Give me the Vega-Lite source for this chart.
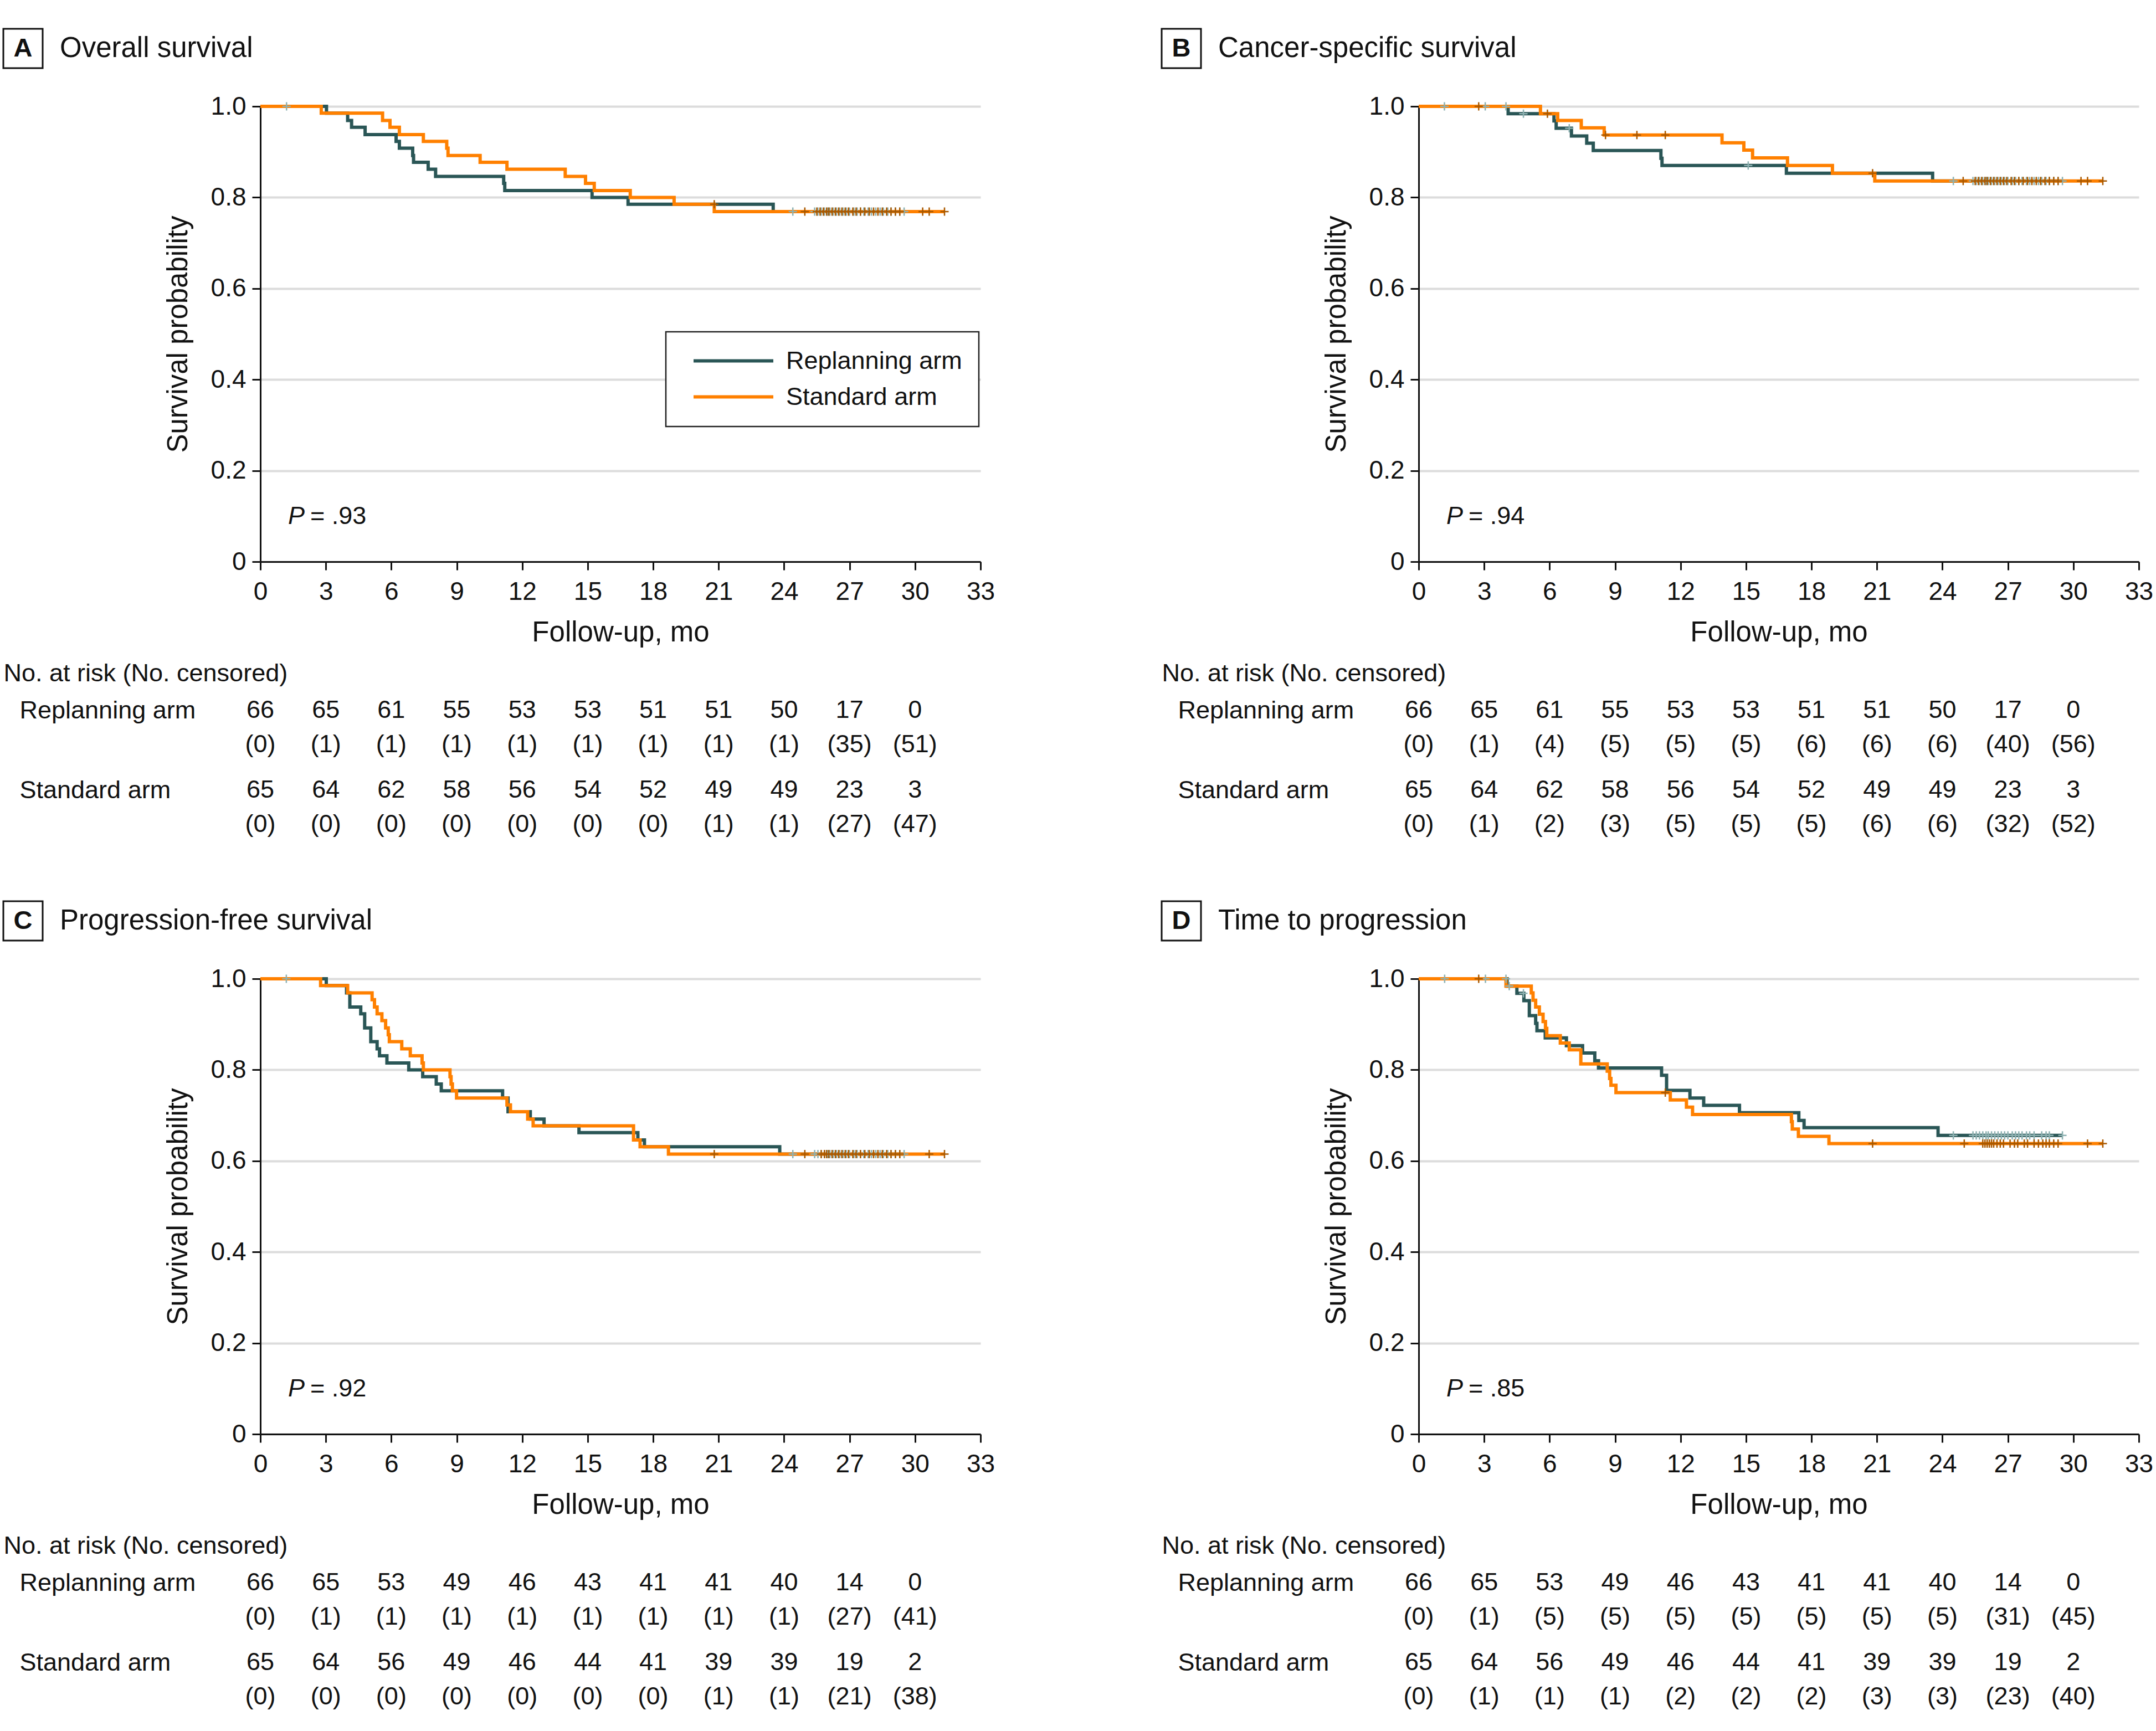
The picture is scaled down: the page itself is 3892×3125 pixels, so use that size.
{
  "$schema": "https://vega.github.io/schema/vega-lite/v6.json",
  "padding": {"left": 4, "top": 50, "right": 20, "bottom": 20},
  "background": "white",
  "columns": 2,
  "bounds": "flush",
  "spacing": {"row": 150, "column": 791},
  "datasets": {
    "km": [
      {"p":"A","a":"R","t":0,"s":1},{"p":"A","a":"R","t":3.03,"s":0.985},{"p":"A","a":"R","t":4.0,"s":0.969},{"p":"A","a":"R","t":4.18,"s":0.954},{"p":"A","a":"R","t":4.8,"s":0.938},{"p":"A","a":"R","t":6.22,"s":0.923},{"p":"A","a":"R","t":6.37,"s":0.908},{"p":"A","a":"R","t":6.98,"s":0.892},{"p":"A","a":"R","t":7.02,"s":0.877},{"p":"A","a":"R","t":7.69,"s":0.862},{"p":"A","a":"R","t":8.03,"s":0.846},{"p":"A","a":"R","t":11.15,"s":0.831},{"p":"A","a":"R","t":11.2,"s":0.815},{"p":"A","a":"R","t":15.2,"s":0.8},{"p":"A","a":"R","t":16.85,"s":0.785},{"p":"A","a":"R","t":23.5,"s":0.769},{"p":"A","a":"R","t":29.5,"s":0.769},
      {"p":"A","a":"S","t":0,"s":1},{"p":"A","a":"S","t":2.79,"s":0.985},{"p":"A","a":"S","t":5.6,"s":0.969},{"p":"A","a":"S","t":5.94,"s":0.954},{"p":"A","a":"S","t":6.37,"s":0.938},{"p":"A","a":"S","t":7.47,"s":0.923},{"p":"A","a":"S","t":8.54,"s":0.908},{"p":"A","a":"S","t":8.6,"s":0.892},{"p":"A","a":"S","t":10.07,"s":0.877},{"p":"A","a":"S","t":11.3,"s":0.862},{"p":"A","a":"S","t":13.97,"s":0.846},{"p":"A","a":"S","t":14.9,"s":0.831},{"p":"A","a":"S","t":15.3,"s":0.815},{"p":"A","a":"S","t":16.95,"s":0.8},{"p":"A","a":"S","t":18.96,"s":0.785},{"p":"A","a":"S","t":20.8,"s":0.769},{"p":"A","a":"S","t":31.35,"s":0.769},
      {"p":"B","a":"R","t":0,"s":1},{"p":"B","a":"R","t":4.1,"s":0.984},{"p":"B","a":"R","t":6.2,"s":0.968},{"p":"B","a":"R","t":6.3,"s":0.952},{"p":"B","a":"R","t":7.0,"s":0.935},{"p":"B","a":"R","t":7.7,"s":0.919},{"p":"B","a":"R","t":8.0,"s":0.903},{"p":"B","a":"R","t":11.1,"s":0.886},{"p":"B","a":"R","t":11.15,"s":0.87},{"p":"B","a":"R","t":16.85,"s":0.853},{"p":"B","a":"R","t":23.55,"s":0.836},{"p":"B","a":"R","t":29.5,"s":0.836},
      {"p":"B","a":"S","t":0,"s":1},{"p":"B","a":"S","t":5.58,"s":0.984},{"p":"B","a":"S","t":6.37,"s":0.969},{"p":"B","a":"S","t":7.45,"s":0.953},{"p":"B","a":"S","t":8.5,"s":0.937},{"p":"B","a":"S","t":13.9,"s":0.92},{"p":"B","a":"S","t":14.9,"s":0.904},{"p":"B","a":"S","t":15.3,"s":0.887},{"p":"B","a":"S","t":16.9,"s":0.87},{"p":"B","a":"S","t":18.96,"s":0.853},{"p":"B","a":"S","t":20.9,"s":0.836},{"p":"B","a":"S","t":31.35,"s":0.836},
      {"p":"C","a":"R","t":0,"s":1},{"p":"C","a":"R","t":3.02,"s":0.985},{"p":"C","a":"R","t":3.95,"s":0.969},{"p":"C","a":"R","t":4.1,"s":0.938},{"p":"C","a":"R","t":4.6,"s":0.923},{"p":"C","a":"R","t":4.78,"s":0.892},{"p":"C","a":"R","t":5.06,"s":0.862},{"p":"C","a":"R","t":5.35,"s":0.846},{"p":"C","a":"R","t":5.46,"s":0.831},{"p":"C","a":"R","t":5.8,"s":0.815},{"p":"C","a":"R","t":6.8,"s":0.8},{"p":"C","a":"R","t":7.44,"s":0.785},{"p":"C","a":"R","t":8.06,"s":0.769},{"p":"C","a":"R","t":8.29,"s":0.754},{"p":"C","a":"R","t":11.1,"s":0.738},{"p":"C","a":"R","t":11.35,"s":0.708},{"p":"C","a":"R","t":12.37,"s":0.692},{"p":"C","a":"R","t":13.0,"s":0.677},{"p":"C","a":"R","t":14.6,"s":0.662},{"p":"C","a":"R","t":17.3,"s":0.646},{"p":"C","a":"R","t":17.6,"s":0.631},{"p":"C","a":"R","t":23.8,"s":0.615},{"p":"C","a":"R","t":29.5,"s":0.615},
      {"p":"C","a":"S","t":0,"s":1},{"p":"C","a":"S","t":2.76,"s":0.985},{"p":"C","a":"S","t":4.0,"s":0.969},{"p":"C","a":"S","t":5.12,"s":0.954},{"p":"C","a":"S","t":5.23,"s":0.938},{"p":"C","a":"S","t":5.35,"s":0.923},{"p":"C","a":"S","t":5.57,"s":0.908},{"p":"C","a":"S","t":5.74,"s":0.892},{"p":"C","a":"S","t":5.86,"s":0.877},{"p":"C","a":"S","t":5.91,"s":0.862},{"p":"C","a":"S","t":6.48,"s":0.846},{"p":"C","a":"S","t":6.87,"s":0.831},{"p":"C","a":"S","t":7.41,"s":0.815},{"p":"C","a":"S","t":7.47,"s":0.8},{"p":"C","a":"S","t":8.69,"s":0.785},{"p":"C","a":"S","t":8.74,"s":0.769},{"p":"C","a":"S","t":8.8,"s":0.754},{"p":"C","a":"S","t":8.99,"s":0.738},{"p":"C","a":"S","t":11.3,"s":0.723},{"p":"C","a":"S","t":11.46,"s":0.708},{"p":"C","a":"S","t":12.25,"s":0.692},{"p":"C","a":"S","t":12.5,"s":0.677},{"p":"C","a":"S","t":17.1,"s":0.646},{"p":"C","a":"S","t":17.4,"s":0.631},{"p":"C","a":"S","t":18.7,"s":0.615},{"p":"C","a":"S","t":31.35,"s":0.615},
      {"p":"D","a":"R","t":0,"s":1},{"p":"D","a":"R","t":4.05,"s":0.984},{"p":"D","a":"R","t":4.5,"s":0.968},{"p":"D","a":"R","t":4.82,"s":0.952},{"p":"D","a":"R","t":5.07,"s":0.919},{"p":"D","a":"R","t":5.36,"s":0.902},{"p":"D","a":"R","t":5.42,"s":0.886},{"p":"D","a":"R","t":5.8,"s":0.87},{"p":"D","a":"R","t":6.77,"s":0.853},{"p":"D","a":"R","t":7.51,"s":0.837},{"p":"D","a":"R","t":8.07,"s":0.82},{"p":"D","a":"R","t":8.24,"s":0.804},{"p":"D","a":"R","t":11.13,"s":0.788},{"p":"D","a":"R","t":11.36,"s":0.755},{"p":"D","a":"R","t":12.43,"s":0.738},{"p":"D","a":"R","t":13.06,"s":0.722},{"p":"D","a":"R","t":14.7,"s":0.706},{"p":"D","a":"R","t":17.42,"s":0.689},{"p":"D","a":"R","t":17.66,"s":0.673},{"p":"D","a":"R","t":23.8,"s":0.656},{"p":"D","a":"R","t":29.5,"s":0.656},
      {"p":"D","a":"S","t":0,"s":1},{"p":"D","a":"S","t":4.0,"s":0.984},{"p":"D","a":"S","t":5.16,"s":0.969},{"p":"D","a":"S","t":5.24,"s":0.953},{"p":"D","a":"S","t":5.36,"s":0.938},{"p":"D","a":"S","t":5.53,"s":0.922},{"p":"D","a":"S","t":5.7,"s":0.906},{"p":"D","a":"S","t":5.81,"s":0.891},{"p":"D","a":"S","t":5.87,"s":0.875},{"p":"D","a":"S","t":6.49,"s":0.859},{"p":"D","a":"S","t":6.9,"s":0.844},{"p":"D","a":"S","t":7.43,"s":0.813},{"p":"D","a":"S","t":8.64,"s":0.797},{"p":"D","a":"S","t":8.75,"s":0.781},{"p":"D","a":"S","t":8.81,"s":0.766},{"p":"D","a":"S","t":9.04,"s":0.75},{"p":"D","a":"S","t":11.53,"s":0.734},{"p":"D","a":"S","t":12.27,"s":0.718},{"p":"D","a":"S","t":12.55,"s":0.702},{"p":"D","a":"S","t":17.08,"s":0.686},{"p":"D","a":"S","t":17.12,"s":0.67},{"p":"D","a":"S","t":17.4,"s":0.654},{"p":"D","a":"S","t":18.8,"s":0.638},{"p":"D","a":"S","t":31.35,"s":0.638}
    ],
    "cens": [
      {"p":"A","a":"R","t":1.2,"s":1},
      {"p":"A","a":"R","t":24.4,"s":0.769},{"p":"A","a":"R","t":25.4,"s":0.769},{"p":"A","a":"R","t":25.55,"s":0.769},{"p":"A","a":"R","t":25.7,"s":0.769},{"p":"A","a":"R","t":25.85,"s":0.769},{"p":"A","a":"R","t":26.0,"s":0.769},{"p":"A","a":"R","t":26.1,"s":0.769},{"p":"A","a":"R","t":26.25,"s":0.769},{"p":"A","a":"R","t":26.4,"s":0.769},{"p":"A","a":"R","t":26.55,"s":0.769},{"p":"A","a":"R","t":26.7,"s":0.769},{"p":"A","a":"R","t":26.85,"s":0.769},{"p":"A","a":"R","t":27.0,"s":0.769},{"p":"A","a":"R","t":27.2,"s":0.769},{"p":"A","a":"R","t":27.35,"s":0.769},{"p":"A","a":"R","t":27.5,"s":0.769},{"p":"A","a":"R","t":27.65,"s":0.769},{"p":"A","a":"R","t":27.85,"s":0.769},{"p":"A","a":"R","t":28.0,"s":0.769},{"p":"A","a":"R","t":28.2,"s":0.769},{"p":"A","a":"R","t":28.4,"s":0.769},{"p":"A","a":"R","t":28.55,"s":0.769},{"p":"A","a":"R","t":28.75,"s":0.769},{"p":"A","a":"R","t":28.9,"s":0.769},{"p":"A","a":"R","t":29.1,"s":0.769},{"p":"A","a":"R","t":29.3,"s":0.769},{"p":"A","a":"R","t":29.5,"s":0.769},
      {"p":"A","a":"S","t":20.8,"s":0.785},
      {"p":"A","a":"S","t":24.95,"s":0.769},{"p":"A","a":"S","t":25.5,"s":0.769},{"p":"A","a":"S","t":25.65,"s":0.769},{"p":"A","a":"S","t":25.8,"s":0.769},{"p":"A","a":"S","t":25.95,"s":0.769},{"p":"A","a":"S","t":26.05,"s":0.769},{"p":"A","a":"S","t":26.2,"s":0.769},{"p":"A","a":"S","t":26.35,"s":0.769},{"p":"A","a":"S","t":26.5,"s":0.769},{"p":"A","a":"S","t":26.65,"s":0.769},{"p":"A","a":"S","t":26.8,"s":0.769},{"p":"A","a":"S","t":26.95,"s":0.769},{"p":"A","a":"S","t":27.15,"s":0.769},{"p":"A","a":"S","t":27.3,"s":0.769},{"p":"A","a":"S","t":27.5,"s":0.769},{"p":"A","a":"S","t":27.7,"s":0.769},{"p":"A","a":"S","t":27.9,"s":0.769},{"p":"A","a":"S","t":28.1,"s":0.769},{"p":"A","a":"S","t":28.3,"s":0.769},{"p":"A","a":"S","t":28.5,"s":0.769},{"p":"A","a":"S","t":28.7,"s":0.769},{"p":"A","a":"S","t":28.9,"s":0.769},{"p":"A","a":"S","t":29.1,"s":0.769},{"p":"A","a":"S","t":29.3,"s":0.769},{"p":"A","a":"S","t":30.35,"s":0.769},{"p":"A","a":"S","t":30.65,"s":0.769},{"p":"A","a":"S","t":31.35,"s":0.769},
      {"p":"B","a":"R","t":1.18,"s":1},{"p":"B","a":"R","t":3.05,"s":1},{"p":"B","a":"R","t":4.0,"s":1},{"p":"B","a":"R","t":4.8,"s":0.984},{"p":"B","a":"R","t":6.9,"s":0.952},{"p":"B","a":"R","t":15.1,"s":0.87},
      {"p":"B","a":"R","t":24.5,"s":0.836},{"p":"B","a":"R","t":25.4,"s":0.836},{"p":"B","a":"R","t":25.55,"s":0.836},{"p":"B","a":"R","t":25.7,"s":0.836},{"p":"B","a":"R","t":25.85,"s":0.836},{"p":"B","a":"R","t":26.0,"s":0.836},{"p":"B","a":"R","t":26.1,"s":0.836},{"p":"B","a":"R","t":26.25,"s":0.836},{"p":"B","a":"R","t":26.4,"s":0.836},{"p":"B","a":"R","t":26.55,"s":0.836},{"p":"B","a":"R","t":26.7,"s":0.836},{"p":"B","a":"R","t":26.85,"s":0.836},{"p":"B","a":"R","t":27.0,"s":0.836},{"p":"B","a":"R","t":27.2,"s":0.836},{"p":"B","a":"R","t":27.35,"s":0.836},{"p":"B","a":"R","t":27.5,"s":0.836},{"p":"B","a":"R","t":27.65,"s":0.836},{"p":"B","a":"R","t":27.85,"s":0.836},{"p":"B","a":"R","t":28.0,"s":0.836},{"p":"B","a":"R","t":28.2,"s":0.836},{"p":"B","a":"R","t":28.4,"s":0.836},{"p":"B","a":"R","t":28.55,"s":0.836},{"p":"B","a":"R","t":28.75,"s":0.836},{"p":"B","a":"R","t":28.9,"s":0.836},{"p":"B","a":"R","t":29.1,"s":0.836},{"p":"B","a":"R","t":29.3,"s":0.836},{"p":"B","a":"R","t":29.5,"s":0.836},
      {"p":"B","a":"S","t":2.75,"s":1},{"p":"B","a":"S","t":5.9,"s":0.984},{"p":"B","a":"S","t":8.56,"s":0.937},{"p":"B","a":"S","t":10.0,"s":0.937},{"p":"B","a":"S","t":11.3,"s":0.937},{"p":"B","a":"S","t":20.8,"s":0.853},
      {"p":"B","a":"S","t":24.95,"s":0.836},{"p":"B","a":"S","t":25.5,"s":0.836},{"p":"B","a":"S","t":25.65,"s":0.836},{"p":"B","a":"S","t":25.8,"s":0.836},{"p":"B","a":"S","t":25.95,"s":0.836},{"p":"B","a":"S","t":26.05,"s":0.836},{"p":"B","a":"S","t":26.2,"s":0.836},{"p":"B","a":"S","t":26.35,"s":0.836},{"p":"B","a":"S","t":26.5,"s":0.836},{"p":"B","a":"S","t":26.65,"s":0.836},{"p":"B","a":"S","t":26.8,"s":0.836},{"p":"B","a":"S","t":26.95,"s":0.836},{"p":"B","a":"S","t":27.15,"s":0.836},{"p":"B","a":"S","t":27.3,"s":0.836},{"p":"B","a":"S","t":27.5,"s":0.836},{"p":"B","a":"S","t":27.7,"s":0.836},{"p":"B","a":"S","t":27.9,"s":0.836},{"p":"B","a":"S","t":28.1,"s":0.836},{"p":"B","a":"S","t":28.3,"s":0.836},{"p":"B","a":"S","t":28.5,"s":0.836},{"p":"B","a":"S","t":28.7,"s":0.836},{"p":"B","a":"S","t":28.9,"s":0.836},{"p":"B","a":"S","t":29.1,"s":0.836},{"p":"B","a":"S","t":29.3,"s":0.836},{"p":"B","a":"S","t":30.35,"s":0.836},{"p":"B","a":"S","t":30.65,"s":0.836},{"p":"B","a":"S","t":31.35,"s":0.836},
      {"p":"C","a":"R","t":1.19,"s":1},
      {"p":"C","a":"R","t":24.4,"s":0.615},{"p":"C","a":"R","t":25.4,"s":0.615},{"p":"C","a":"R","t":25.55,"s":0.615},{"p":"C","a":"R","t":25.7,"s":0.615},{"p":"C","a":"R","t":25.85,"s":0.615},{"p":"C","a":"R","t":26.0,"s":0.615},{"p":"C","a":"R","t":26.1,"s":0.615},{"p":"C","a":"R","t":26.25,"s":0.615},{"p":"C","a":"R","t":26.4,"s":0.615},{"p":"C","a":"R","t":26.55,"s":0.615},{"p":"C","a":"R","t":26.7,"s":0.615},{"p":"C","a":"R","t":26.85,"s":0.615},{"p":"C","a":"R","t":27.0,"s":0.615},{"p":"C","a":"R","t":27.2,"s":0.615},{"p":"C","a":"R","t":27.35,"s":0.615},{"p":"C","a":"R","t":27.5,"s":0.615},{"p":"C","a":"R","t":27.65,"s":0.615},{"p":"C","a":"R","t":27.85,"s":0.615},{"p":"C","a":"R","t":28.0,"s":0.615},{"p":"C","a":"R","t":28.2,"s":0.615},{"p":"C","a":"R","t":28.4,"s":0.615},{"p":"C","a":"R","t":28.55,"s":0.615},{"p":"C","a":"R","t":28.75,"s":0.615},{"p":"C","a":"R","t":28.9,"s":0.615},{"p":"C","a":"R","t":29.1,"s":0.615},{"p":"C","a":"R","t":29.3,"s":0.615},{"p":"C","a":"R","t":29.5,"s":0.615},
      {"p":"C","a":"S","t":20.8,"s":0.615},
      {"p":"C","a":"S","t":24.95,"s":0.615},{"p":"C","a":"S","t":25.7,"s":0.615},{"p":"C","a":"S","t":25.85,"s":0.615},{"p":"C","a":"S","t":25.95,"s":0.615},{"p":"C","a":"S","t":26.05,"s":0.615},{"p":"C","a":"S","t":26.2,"s":0.615},{"p":"C","a":"S","t":26.35,"s":0.615},{"p":"C","a":"S","t":26.5,"s":0.615},{"p":"C","a":"S","t":26.65,"s":0.615},{"p":"C","a":"S","t":26.8,"s":0.615},{"p":"C","a":"S","t":26.95,"s":0.615},{"p":"C","a":"S","t":27.15,"s":0.615},{"p":"C","a":"S","t":27.3,"s":0.615},{"p":"C","a":"S","t":27.5,"s":0.615},{"p":"C","a":"S","t":27.7,"s":0.615},{"p":"C","a":"S","t":27.9,"s":0.615},{"p":"C","a":"S","t":28.1,"s":0.615},{"p":"C","a":"S","t":28.3,"s":0.615},{"p":"C","a":"S","t":28.5,"s":0.615},{"p":"C","a":"S","t":28.7,"s":0.615},{"p":"C","a":"S","t":28.9,"s":0.615},{"p":"C","a":"S","t":29.1,"s":0.615},{"p":"C","a":"S","t":29.3,"s":0.615},{"p":"C","a":"S","t":30.65,"s":0.615},{"p":"C","a":"S","t":31.35,"s":0.615},
      {"p":"D","a":"R","t":1.19,"s":1},{"p":"D","a":"R","t":3.06,"s":1},{"p":"D","a":"R","t":4.0,"s":1},{"p":"D","a":"R","t":4.15,"s":0.984},{"p":"D","a":"R","t":4.8,"s":0.968},
      {"p":"D","a":"R","t":24.5,"s":0.656},{"p":"D","a":"R","t":25.4,"s":0.656},{"p":"D","a":"R","t":25.55,"s":0.656},{"p":"D","a":"R","t":25.7,"s":0.656},{"p":"D","a":"R","t":25.85,"s":0.656},{"p":"D","a":"R","t":26.0,"s":0.656},{"p":"D","a":"R","t":26.1,"s":0.656},{"p":"D","a":"R","t":26.25,"s":0.656},{"p":"D","a":"R","t":26.4,"s":0.656},{"p":"D","a":"R","t":26.55,"s":0.656},{"p":"D","a":"R","t":26.7,"s":0.656},{"p":"D","a":"R","t":26.85,"s":0.656},{"p":"D","a":"R","t":27.0,"s":0.656},{"p":"D","a":"R","t":27.2,"s":0.656},{"p":"D","a":"R","t":27.35,"s":0.656},{"p":"D","a":"R","t":27.5,"s":0.656},{"p":"D","a":"R","t":27.65,"s":0.656},{"p":"D","a":"R","t":27.85,"s":0.656},{"p":"D","a":"R","t":28.0,"s":0.656},{"p":"D","a":"R","t":28.2,"s":0.656},{"p":"D","a":"R","t":28.55,"s":0.656},{"p":"D","a":"R","t":28.75,"s":0.656},{"p":"D","a":"R","t":28.9,"s":0.656},{"p":"D","a":"R","t":29.5,"s":0.656},
      {"p":"D","a":"S","t":2.75,"s":1},{"p":"D","a":"S","t":11.3,"s":0.75},{"p":"D","a":"S","t":20.8,"s":0.638},
      {"p":"D","a":"S","t":25.0,"s":0.638},{"p":"D","a":"S","t":25.85,"s":0.638},{"p":"D","a":"S","t":25.95,"s":0.638},{"p":"D","a":"S","t":26.05,"s":0.638},{"p":"D","a":"S","t":26.15,"s":0.638},{"p":"D","a":"S","t":26.25,"s":0.638},{"p":"D","a":"S","t":26.35,"s":0.638},{"p":"D","a":"S","t":26.5,"s":0.638},{"p":"D","a":"S","t":26.65,"s":0.638},{"p":"D","a":"S","t":26.8,"s":0.638},{"p":"D","a":"S","t":27.1,"s":0.638},{"p":"D","a":"S","t":27.3,"s":0.638},{"p":"D","a":"S","t":27.45,"s":0.638},{"p":"D","a":"S","t":27.75,"s":0.638},{"p":"D","a":"S","t":27.9,"s":0.638},{"p":"D","a":"S","t":28.2,"s":0.638},{"p":"D","a":"S","t":28.4,"s":0.638},{"p":"D","a":"S","t":28.6,"s":0.638},{"p":"D","a":"S","t":28.75,"s":0.638},{"p":"D","a":"S","t":28.9,"s":0.638},{"p":"D","a":"S","t":29.1,"s":0.638},{"p":"D","a":"S","t":29.3,"s":0.638},{"p":"D","a":"S","t":30.65,"s":0.638},{"p":"D","a":"S","t":31.35,"s":0.638}
    ],
    "risk": [
      {"p":"A","a":"R","t":0,"n":66,"c":0},{"p":"A","a":"R","t":3,"n":65,"c":1},{"p":"A","a":"R","t":6,"n":61,"c":1},{"p":"A","a":"R","t":9,"n":55,"c":1},{"p":"A","a":"R","t":12,"n":53,"c":1},{"p":"A","a":"R","t":15,"n":53,"c":1},{"p":"A","a":"R","t":18,"n":51,"c":1},{"p":"A","a":"R","t":21,"n":51,"c":1},{"p":"A","a":"R","t":24,"n":50,"c":1},{"p":"A","a":"R","t":27,"n":17,"c":35},{"p":"A","a":"R","t":30,"n":0,"c":51},
      {"p":"A","a":"S","t":0,"n":65,"c":0},{"p":"A","a":"S","t":3,"n":64,"c":0},{"p":"A","a":"S","t":6,"n":62,"c":0},{"p":"A","a":"S","t":9,"n":58,"c":0},{"p":"A","a":"S","t":12,"n":56,"c":0},{"p":"A","a":"S","t":15,"n":54,"c":0},{"p":"A","a":"S","t":18,"n":52,"c":0},{"p":"A","a":"S","t":21,"n":49,"c":1},{"p":"A","a":"S","t":24,"n":49,"c":1},{"p":"A","a":"S","t":27,"n":23,"c":27},{"p":"A","a":"S","t":30,"n":3,"c":47},
      {"p":"B","a":"R","t":0,"n":66,"c":0},{"p":"B","a":"R","t":3,"n":65,"c":1},{"p":"B","a":"R","t":6,"n":61,"c":4},{"p":"B","a":"R","t":9,"n":55,"c":5},{"p":"B","a":"R","t":12,"n":53,"c":5},{"p":"B","a":"R","t":15,"n":53,"c":5},{"p":"B","a":"R","t":18,"n":51,"c":6},{"p":"B","a":"R","t":21,"n":51,"c":6},{"p":"B","a":"R","t":24,"n":50,"c":6},{"p":"B","a":"R","t":27,"n":17,"c":40},{"p":"B","a":"R","t":30,"n":0,"c":56},
      {"p":"B","a":"S","t":0,"n":65,"c":0},{"p":"B","a":"S","t":3,"n":64,"c":1},{"p":"B","a":"S","t":6,"n":62,"c":2},{"p":"B","a":"S","t":9,"n":58,"c":3},{"p":"B","a":"S","t":12,"n":56,"c":5},{"p":"B","a":"S","t":15,"n":54,"c":5},{"p":"B","a":"S","t":18,"n":52,"c":5},{"p":"B","a":"S","t":21,"n":49,"c":6},{"p":"B","a":"S","t":24,"n":49,"c":6},{"p":"B","a":"S","t":27,"n":23,"c":32},{"p":"B","a":"S","t":30,"n":3,"c":52},
      {"p":"C","a":"R","t":0,"n":66,"c":0},{"p":"C","a":"R","t":3,"n":65,"c":1},{"p":"C","a":"R","t":6,"n":53,"c":1},{"p":"C","a":"R","t":9,"n":49,"c":1},{"p":"C","a":"R","t":12,"n":46,"c":1},{"p":"C","a":"R","t":15,"n":43,"c":1},{"p":"C","a":"R","t":18,"n":41,"c":1},{"p":"C","a":"R","t":21,"n":41,"c":1},{"p":"C","a":"R","t":24,"n":40,"c":1},{"p":"C","a":"R","t":27,"n":14,"c":27},{"p":"C","a":"R","t":30,"n":0,"c":41},
      {"p":"C","a":"S","t":0,"n":65,"c":0},{"p":"C","a":"S","t":3,"n":64,"c":0},{"p":"C","a":"S","t":6,"n":56,"c":0},{"p":"C","a":"S","t":9,"n":49,"c":0},{"p":"C","a":"S","t":12,"n":46,"c":0},{"p":"C","a":"S","t":15,"n":44,"c":0},{"p":"C","a":"S","t":18,"n":41,"c":0},{"p":"C","a":"S","t":21,"n":39,"c":1},{"p":"C","a":"S","t":24,"n":39,"c":1},{"p":"C","a":"S","t":27,"n":19,"c":21},{"p":"C","a":"S","t":30,"n":2,"c":38},
      {"p":"D","a":"R","t":0,"n":66,"c":0},{"p":"D","a":"R","t":3,"n":65,"c":1},{"p":"D","a":"R","t":6,"n":53,"c":5},{"p":"D","a":"R","t":9,"n":49,"c":5},{"p":"D","a":"R","t":12,"n":46,"c":5},{"p":"D","a":"R","t":15,"n":43,"c":5},{"p":"D","a":"R","t":18,"n":41,"c":5},{"p":"D","a":"R","t":21,"n":41,"c":5},{"p":"D","a":"R","t":24,"n":40,"c":5},{"p":"D","a":"R","t":27,"n":14,"c":31},{"p":"D","a":"R","t":30,"n":0,"c":45},
      {"p":"D","a":"S","t":0,"n":65,"c":0},{"p":"D","a":"S","t":3,"n":64,"c":1},{"p":"D","a":"S","t":6,"n":56,"c":1},{"p":"D","a":"S","t":9,"n":49,"c":1},{"p":"D","a":"S","t":12,"n":46,"c":2},{"p":"D","a":"S","t":15,"n":44,"c":2},{"p":"D","a":"S","t":18,"n":41,"c":2},{"p":"D","a":"S","t":21,"n":39,"c":3},{"p":"D","a":"S","t":24,"n":39,"c":3},{"p":"D","a":"S","t":27,"n":19,"c":23},{"p":"D","a":"S","t":30,"n":2,"c":40}
    ]
  },
  "concat": [
    {
      "width": 1300, "height": 822,
      "layer": [
        {"data": {"name": "km"}, "transform": [{"filter": "datum.p == 'A'"}],
         "mark": {"type": "line", "interpolate": "step-after", "strokeWidth": 6, "strokeJoin": "miter"},
         "encoding": {
           "x": {"field": "t", "type": "quantitative", "scale": {"domain": [0, 33], "nice": false},
                 "axis": {"values": [0,3,6,9,12,15,18,21,24,27,30,33], "format": "d", "title": "Follow-up, mo", "grid": false, "domainColor": "#111", "domainWidth": 3, "tickColor": "#111", "tickWidth": 3, "tickSize": 15, "labelPadding": 17, "labelFontSize": 46, "labelFlush": false, "labelOverlap": false, "titleFontSize": 51, "titlePadding": 26, "titleFontWeight": "normal"}},
           "y": {"field": "s", "type": "quantitative", "scale": {"domain": [0, 1], "nice": false},
                 "axis": {"values": [0,0.2,0.4,0.6,0.8,1], "labelExpr": "datum.value == 0 ? '0' : format(datum.value, '.1f')", "title": "Survival probability", "grid": true, "gridColor": "#dcdcdc", "gridWidth": 4, "domainColor": "#111", "domainWidth": 3, "tickColor": "#111", "tickWidth": 3, "tickSize": 15, "labelPadding": 11, "labelFontSize": 46, "labelFlush": false, "labelOverlap": false, "titleFontSize": 51, "titlePadding": 32, "titleFontWeight": "normal"}},
           "color": {"field": "a", "type": "nominal", "scale": {"domain": ["R", "S"], "range": ["#2a5656", "#ff8000"]},
                     "legend": {"title": null, "orient": "none", "legendX": 732, "legendY": 407, "direction": "vertical", "symbolType": "stroke", "symbolSize": 20736, "symbolStrokeWidth": 6, "symbolOffset": 17, "clipHeight": 45, "labelFontSize": 45, "labelOffset": 20, "labelLimit": 1000, "rowPadding": 19, "padding": 30, "strokeColor": "#222", "fillColor": "white", "labelExpr": "datum.value == 'R' ? 'Replanning arm' : 'Standard arm'"}}
         }},
        {"data": {"name": "cens"}, "transform": [{"filter": "datum.p == 'A'"}],
         "mark": {"type": "point", "shape": "M-1,0H1M0,-1V1", "filled": false, "size": 225, "strokeWidth": 2.5, "opacity": 1},
         "encoding": {
           "x": {"field": "t", "type": "quantitative"},
           "y": {"field": "s", "type": "quantitative"},
           "stroke": {"field": "a", "type": "nominal", "scale": {"domain": ["R", "S"], "range": ["#8db1b1", "#a85800"]}, "legend": null}
         }},
        {"data": {"values": [{}]}, "mark": {"type": "rect", "fillOpacity": 0, "stroke": "#111", "strokeWidth": 3},
         "encoding": {"x": {"datum": -11.778}, "x2": {"datum": -9.976}, "y": {"datum": 1.1703}, "y2": {"datum": 1.0839}}},
        {"data": {"values": [{}]}, "mark": {"type": "text", "text": "A", "fontSize": 47, "fontWeight": "bold", "align": "center", "baseline": "middle"},
         "encoding": {"x": {"datum": -10.877}, "y": {"datum": 1.127}}},
        {"data": {"values": [{}]}, "mark": {"type": "text", "text": "Overall survival", "fontSize": 51, "align": "left", "baseline": "middle"},
         "encoding": {"x": {"datum": -9.19}, "y": {"datum": 1.127}}},
        {"data": {"values": [{}]}, "mark": {"type": "text", "text": "P", "fontSize": 45, "fontStyle": "italic", "align": "left", "baseline": "middle"},
         "encoding": {"x": {"datum": 1.27}, "y": {"datum": 0.1}}},
        {"data": {"values": [{}]}, "mark": {"type": "text", "text": "= .93", "fontSize": 45, "align": "left", "baseline": "middle", "dx": 40},
         "encoding": {"x": {"datum": 1.27}, "y": {"datum": 0.1}}}
      ]
    },
    {
      "width": 1300, "height": 822,
      "layer": [
        {"data": {"name": "km"}, "transform": [{"filter": "datum.p == 'B'"}],
         "mark": {"type": "line", "interpolate": "step-after", "strokeWidth": 6, "strokeJoin": "miter"},
         "encoding": {
           "x": {"field": "t", "type": "quantitative", "scale": {"domain": [0, 33], "nice": false},
                 "axis": {"values": [0,3,6,9,12,15,18,21,24,27,30,33], "format": "d", "title": "Follow-up, mo", "grid": false, "domainColor": "#111", "domainWidth": 3, "tickColor": "#111", "tickWidth": 3, "tickSize": 15, "labelPadding": 17, "labelFontSize": 46, "labelFlush": false, "labelOverlap": false, "titleFontSize": 51, "titlePadding": 26, "titleFontWeight": "normal"}},
           "y": {"field": "s", "type": "quantitative", "scale": {"domain": [0, 1], "nice": false},
                 "axis": {"values": [0,0.2,0.4,0.6,0.8,1], "labelExpr": "datum.value == 0 ? '0' : format(datum.value, '.1f')", "title": "Survival probability", "grid": true, "gridColor": "#dcdcdc", "gridWidth": 4, "domainColor": "#111", "domainWidth": 3, "tickColor": "#111", "tickWidth": 3, "tickSize": 15, "labelPadding": 11, "labelFontSize": 46, "labelFlush": false, "labelOverlap": false, "titleFontSize": 51, "titlePadding": 32, "titleFontWeight": "normal"}},
           "color": {"field": "a", "type": "nominal", "scale": {"domain": ["R", "S"], "range": ["#2a5656", "#ff8000"]}, "legend": null}
         }},
        {"data": {"name": "cens"}, "transform": [{"filter": "datum.p == 'B'"}],
         "mark": {"type": "point", "shape": "M-1,0H1M0,-1V1", "filled": false, "size": 225, "strokeWidth": 2.5, "opacity": 1},
         "encoding": {
           "x": {"field": "t", "type": "quantitative"},
           "y": {"field": "s", "type": "quantitative"},
           "stroke": {"field": "a", "type": "nominal", "scale": {"domain": ["R", "S"], "range": ["#8db1b1", "#a85800"]}, "legend": null}
         }},
        {"data": {"values": [{}]}, "mark": {"type": "rect", "fillOpacity": 0, "stroke": "#111", "strokeWidth": 3},
         "encoding": {"x": {"datum": -11.778}, "x2": {"datum": -9.976}, "y": {"datum": 1.1703}, "y2": {"datum": 1.0839}}},
        {"data": {"values": [{}]}, "mark": {"type": "text", "text": "B", "fontSize": 47, "fontWeight": "bold", "align": "center", "baseline": "middle"},
         "encoding": {"x": {"datum": -10.877}, "y": {"datum": 1.127}}},
        {"data": {"values": [{}]}, "mark": {"type": "text", "text": "Cancer-specific survival", "fontSize": 51, "align": "left", "baseline": "middle"},
         "encoding": {"x": {"datum": -9.19}, "y": {"datum": 1.127}}},
        {"data": {"values": [{}]}, "mark": {"type": "text", "text": "P", "fontSize": 45, "fontStyle": "italic", "align": "left", "baseline": "middle"},
         "encoding": {"x": {"datum": 1.27}, "y": {"datum": 0.1}}},
        {"data": {"values": [{}]}, "mark": {"type": "text", "text": "= .94", "fontSize": 45, "align": "left", "baseline": "middle", "dx": 40},
         "encoding": {"x": {"datum": 1.27}, "y": {"datum": 0.1}}}
      ]
    },
    {
      "width": 1300, "height": 453,
      "data": {"name": "risk"},
      "transform": [{"filter": "datum.p == 'A'"}, {"calculate": "'(' + datum.c + ')'", "as": "cl"}],
      "encoding": {
        "x": {"field": "t", "type": "quantitative", "scale": {"domain": [0, 33], "nice": false}, "axis": null},
        "y": {"field": "a", "type": "nominal", "scale": {"type": "point", "domain": ["R", "S"], "range": [149, 293], "padding": 0},
              "axis": {"title": "No. at risk (No. censored)", "titleAngle": 0, "titleAlign": "left", "titleBaseline": "middle", "titleX": -464, "titleY": 51, "titleFontSize": 45, "titleFontWeight": "normal", "domain": false, "ticks": false, "tickSize": 0, "labelAlign": "left", "labelBaseline": "middle", "labelPadding": 435, "labelOffset": -31, "labelFontSize": 45, "labelLimit": 1000, "labelExpr": "datum.value == 'R' ? 'Replanning arm' : 'Standard arm'"}}
      },
      "layer": [
        {"mark": {"type": "text", "dy": -31, "fontSize": 45, "baseline": "middle"}, "encoding": {"text": {"field": "n", "type": "quantitative"}}},
        {"mark": {"type": "text", "dy": 31, "fontSize": 45, "baseline": "middle"}, "encoding": {"text": {"field": "cl", "type": "nominal"}}}
      ]
    },
    {
      "width": 1300, "height": 453,
      "data": {"name": "risk"},
      "transform": [{"filter": "datum.p == 'B'"}, {"calculate": "'(' + datum.c + ')'", "as": "cl"}],
      "encoding": {
        "x": {"field": "t", "type": "quantitative", "scale": {"domain": [0, 33], "nice": false}, "axis": null},
        "y": {"field": "a", "type": "nominal", "scale": {"type": "point", "domain": ["R", "S"], "range": [149, 293], "padding": 0},
              "axis": {"title": "No. at risk (No. censored)", "titleAngle": 0, "titleAlign": "left", "titleBaseline": "middle", "titleX": -464, "titleY": 51, "titleFontSize": 45, "titleFontWeight": "normal", "domain": false, "ticks": false, "tickSize": 0, "labelAlign": "left", "labelBaseline": "middle", "labelPadding": 435, "labelOffset": -31, "labelFontSize": 45, "labelLimit": 1000, "labelExpr": "datum.value == 'R' ? 'Replanning arm' : 'Standard arm'"}}
      },
      "layer": [
        {"mark": {"type": "text", "dy": -31, "fontSize": 45, "baseline": "middle"}, "encoding": {"text": {"field": "n", "type": "quantitative"}}},
        {"mark": {"type": "text", "dy": 31, "fontSize": 45, "baseline": "middle"}, "encoding": {"text": {"field": "cl", "type": "nominal"}}}
      ]
    },
    {
      "width": 1300, "height": 822,
      "layer": [
        {"data": {"name": "km"}, "transform": [{"filter": "datum.p == 'C'"}],
         "mark": {"type": "line", "interpolate": "step-after", "strokeWidth": 6, "strokeJoin": "miter"},
         "encoding": {
           "x": {"field": "t", "type": "quantitative", "scale": {"domain": [0, 33], "nice": false},
                 "axis": {"values": [0,3,6,9,12,15,18,21,24,27,30,33], "format": "d", "title": "Follow-up, mo", "grid": false, "domainColor": "#111", "domainWidth": 3, "tickColor": "#111", "tickWidth": 3, "tickSize": 15, "labelPadding": 17, "labelFontSize": 46, "labelFlush": false, "labelOverlap": false, "titleFontSize": 51, "titlePadding": 26, "titleFontWeight": "normal"}},
           "y": {"field": "s", "type": "quantitative", "scale": {"domain": [0, 1], "nice": false},
                 "axis": {"values": [0,0.2,0.4,0.6,0.8,1], "labelExpr": "datum.value == 0 ? '0' : format(datum.value, '.1f')", "title": "Survival probability", "grid": true, "gridColor": "#dcdcdc", "gridWidth": 4, "domainColor": "#111", "domainWidth": 3, "tickColor": "#111", "tickWidth": 3, "tickSize": 15, "labelPadding": 11, "labelFontSize": 46, "labelFlush": false, "labelOverlap": false, "titleFontSize": 51, "titlePadding": 32, "titleFontWeight": "normal"}},
           "color": {"field": "a", "type": "nominal", "scale": {"domain": ["R", "S"], "range": ["#2a5656", "#ff8000"]}, "legend": null}
         }},
        {"data": {"name": "cens"}, "transform": [{"filter": "datum.p == 'C'"}],
         "mark": {"type": "point", "shape": "M-1,0H1M0,-1V1", "filled": false, "size": 225, "strokeWidth": 2.5, "opacity": 1},
         "encoding": {
           "x": {"field": "t", "type": "quantitative"},
           "y": {"field": "s", "type": "quantitative"},
           "stroke": {"field": "a", "type": "nominal", "scale": {"domain": ["R", "S"], "range": ["#8db1b1", "#a85800"]}, "legend": null}
         }},
        {"data": {"values": [{}]}, "mark": {"type": "rect", "fillOpacity": 0, "stroke": "#111", "strokeWidth": 3},
         "encoding": {"x": {"datum": -11.778}, "x2": {"datum": -9.976}, "y": {"datum": 1.1703}, "y2": {"datum": 1.0839}}},
        {"data": {"values": [{}]}, "mark": {"type": "text", "text": "C", "fontSize": 47, "fontWeight": "bold", "align": "center", "baseline": "middle"},
         "encoding": {"x": {"datum": -10.877}, "y": {"datum": 1.127}}},
        {"data": {"values": [{}]}, "mark": {"type": "text", "text": "Progression-free survival", "fontSize": 51, "align": "left", "baseline": "middle"},
         "encoding": {"x": {"datum": -9.19}, "y": {"datum": 1.127}}},
        {"data": {"values": [{}]}, "mark": {"type": "text", "text": "P", "fontSize": 45, "fontStyle": "italic", "align": "left", "baseline": "middle"},
         "encoding": {"x": {"datum": 1.27}, "y": {"datum": 0.1}}},
        {"data": {"values": [{}]}, "mark": {"type": "text", "text": "= .92", "fontSize": 45, "align": "left", "baseline": "middle", "dx": 40},
         "encoding": {"x": {"datum": 1.27}, "y": {"datum": 0.1}}}
      ]
    },
    {
      "width": 1300, "height": 822,
      "layer": [
        {"data": {"name": "km"}, "transform": [{"filter": "datum.p == 'D'"}],
         "mark": {"type": "line", "interpolate": "step-after", "strokeWidth": 6, "strokeJoin": "miter"},
         "encoding": {
           "x": {"field": "t", "type": "quantitative", "scale": {"domain": [0, 33], "nice": false},
                 "axis": {"values": [0,3,6,9,12,15,18,21,24,27,30,33], "format": "d", "title": "Follow-up, mo", "grid": false, "domainColor": "#111", "domainWidth": 3, "tickColor": "#111", "tickWidth": 3, "tickSize": 15, "labelPadding": 17, "labelFontSize": 46, "labelFlush": false, "labelOverlap": false, "titleFontSize": 51, "titlePadding": 26, "titleFontWeight": "normal"}},
           "y": {"field": "s", "type": "quantitative", "scale": {"domain": [0, 1], "nice": false},
                 "axis": {"values": [0,0.2,0.4,0.6,0.8,1], "labelExpr": "datum.value == 0 ? '0' : format(datum.value, '.1f')", "title": "Survival probability", "grid": true, "gridColor": "#dcdcdc", "gridWidth": 4, "domainColor": "#111", "domainWidth": 3, "tickColor": "#111", "tickWidth": 3, "tickSize": 15, "labelPadding": 11, "labelFontSize": 46, "labelFlush": false, "labelOverlap": false, "titleFontSize": 51, "titlePadding": 32, "titleFontWeight": "normal"}},
           "color": {"field": "a", "type": "nominal", "scale": {"domain": ["R", "S"], "range": ["#2a5656", "#ff8000"]}, "legend": null}
         }},
        {"data": {"name": "cens"}, "transform": [{"filter": "datum.p == 'D'"}],
         "mark": {"type": "point", "shape": "M-1,0H1M0,-1V1", "filled": false, "size": 225, "strokeWidth": 2.5, "opacity": 1},
         "encoding": {
           "x": {"field": "t", "type": "quantitative"},
           "y": {"field": "s", "type": "quantitative"},
           "stroke": {"field": "a", "type": "nominal", "scale": {"domain": ["R", "S"], "range": ["#8db1b1", "#a85800"]}, "legend": null}
         }},
        {"data": {"values": [{}]}, "mark": {"type": "rect", "fillOpacity": 0, "stroke": "#111", "strokeWidth": 3},
         "encoding": {"x": {"datum": -11.778}, "x2": {"datum": -9.976}, "y": {"datum": 1.1703}, "y2": {"datum": 1.0839}}},
        {"data": {"values": [{}]}, "mark": {"type": "text", "text": "D", "fontSize": 47, "fontWeight": "bold", "align": "center", "baseline": "middle"},
         "encoding": {"x": {"datum": -10.877}, "y": {"datum": 1.127}}},
        {"data": {"values": [{}]}, "mark": {"type": "text", "text": "Time to progression", "fontSize": 51, "align": "left", "baseline": "middle"},
         "encoding": {"x": {"datum": -9.19}, "y": {"datum": 1.127}}},
        {"data": {"values": [{}]}, "mark": {"type": "text", "text": "P", "fontSize": 45, "fontStyle": "italic", "align": "left", "baseline": "middle"},
         "encoding": {"x": {"datum": 1.27}, "y": {"datum": 0.1}}},
        {"data": {"values": [{}]}, "mark": {"type": "text", "text": "= .85", "fontSize": 45, "align": "left", "baseline": "middle", "dx": 40},
         "encoding": {"x": {"datum": 1.27}, "y": {"datum": 0.1}}}
      ]
    },
    {
      "width": 1300, "height": 453,
      "data": {"name": "risk"},
      "transform": [{"filter": "datum.p == 'C'"}, {"calculate": "'(' + datum.c + ')'", "as": "cl"}],
      "encoding": {
        "x": {"field": "t", "type": "quantitative", "scale": {"domain": [0, 33], "nice": false}, "axis": null},
        "y": {"field": "a", "type": "nominal", "scale": {"type": "point", "domain": ["R", "S"], "range": [149, 293], "padding": 0},
              "axis": {"title": "No. at risk (No. censored)", "titleAngle": 0, "titleAlign": "left", "titleBaseline": "middle", "titleX": -464, "titleY": 51, "titleFontSize": 45, "titleFontWeight": "normal", "domain": false, "ticks": false, "tickSize": 0, "labelAlign": "left", "labelBaseline": "middle", "labelPadding": 435, "labelOffset": -31, "labelFontSize": 45, "labelLimit": 1000, "labelExpr": "datum.value == 'R' ? 'Replanning arm' : 'Standard arm'"}}
      },
      "layer": [
        {"mark": {"type": "text", "dy": -31, "fontSize": 45, "baseline": "middle"}, "encoding": {"text": {"field": "n", "type": "quantitative"}}},
        {"mark": {"type": "text", "dy": 31, "fontSize": 45, "baseline": "middle"}, "encoding": {"text": {"field": "cl", "type": "nominal"}}}
      ]
    },
    {
      "width": 1300, "height": 453,
      "data": {"name": "risk"},
      "transform": [{"filter": "datum.p == 'D'"}, {"calculate": "'(' + datum.c + ')'", "as": "cl"}],
      "encoding": {
        "x": {"field": "t", "type": "quantitative", "scale": {"domain": [0, 33], "nice": false}, "axis": null},
        "y": {"field": "a", "type": "nominal", "scale": {"type": "point", "domain": ["R", "S"], "range": [149, 293], "padding": 0},
              "axis": {"title": "No. at risk (No. censored)", "titleAngle": 0, "titleAlign": "left", "titleBaseline": "middle", "titleX": -464, "titleY": 51, "titleFontSize": 45, "titleFontWeight": "normal", "domain": false, "ticks": false, "tickSize": 0, "labelAlign": "left", "labelBaseline": "middle", "labelPadding": 435, "labelOffset": -31, "labelFontSize": 45, "labelLimit": 1000, "labelExpr": "datum.value == 'R' ? 'Replanning arm' : 'Standard arm'"}}
      },
      "layer": [
        {"mark": {"type": "text", "dy": -31, "fontSize": 45, "baseline": "middle"}, "encoding": {"text": {"field": "n", "type": "quantitative"}}},
        {"mark": {"type": "text", "dy": 31, "fontSize": 45, "baseline": "middle"}, "encoding": {"text": {"field": "cl", "type": "nominal"}}}
      ]
    }
  ],
  "resolve": {
    "scale": {"color": "independent", "stroke": "independent"},
    "legend": {"color": "independent", "stroke": "independent"}
  },
  "config": {
    "font": "Liberation Sans",
    "view": {"stroke": null},
    "axis": {"labelColor": "#111", "titleColor": "#111", "labelFont": "Liberation Sans", "titleFont": "Liberation Sans"},
    "legend": {"labelColor": "#111", "labelFont": "Liberation Sans", "strokeWidth": 2.5},
    "text": {"color": "#111", "font": "Liberation Sans"}
  }
}
